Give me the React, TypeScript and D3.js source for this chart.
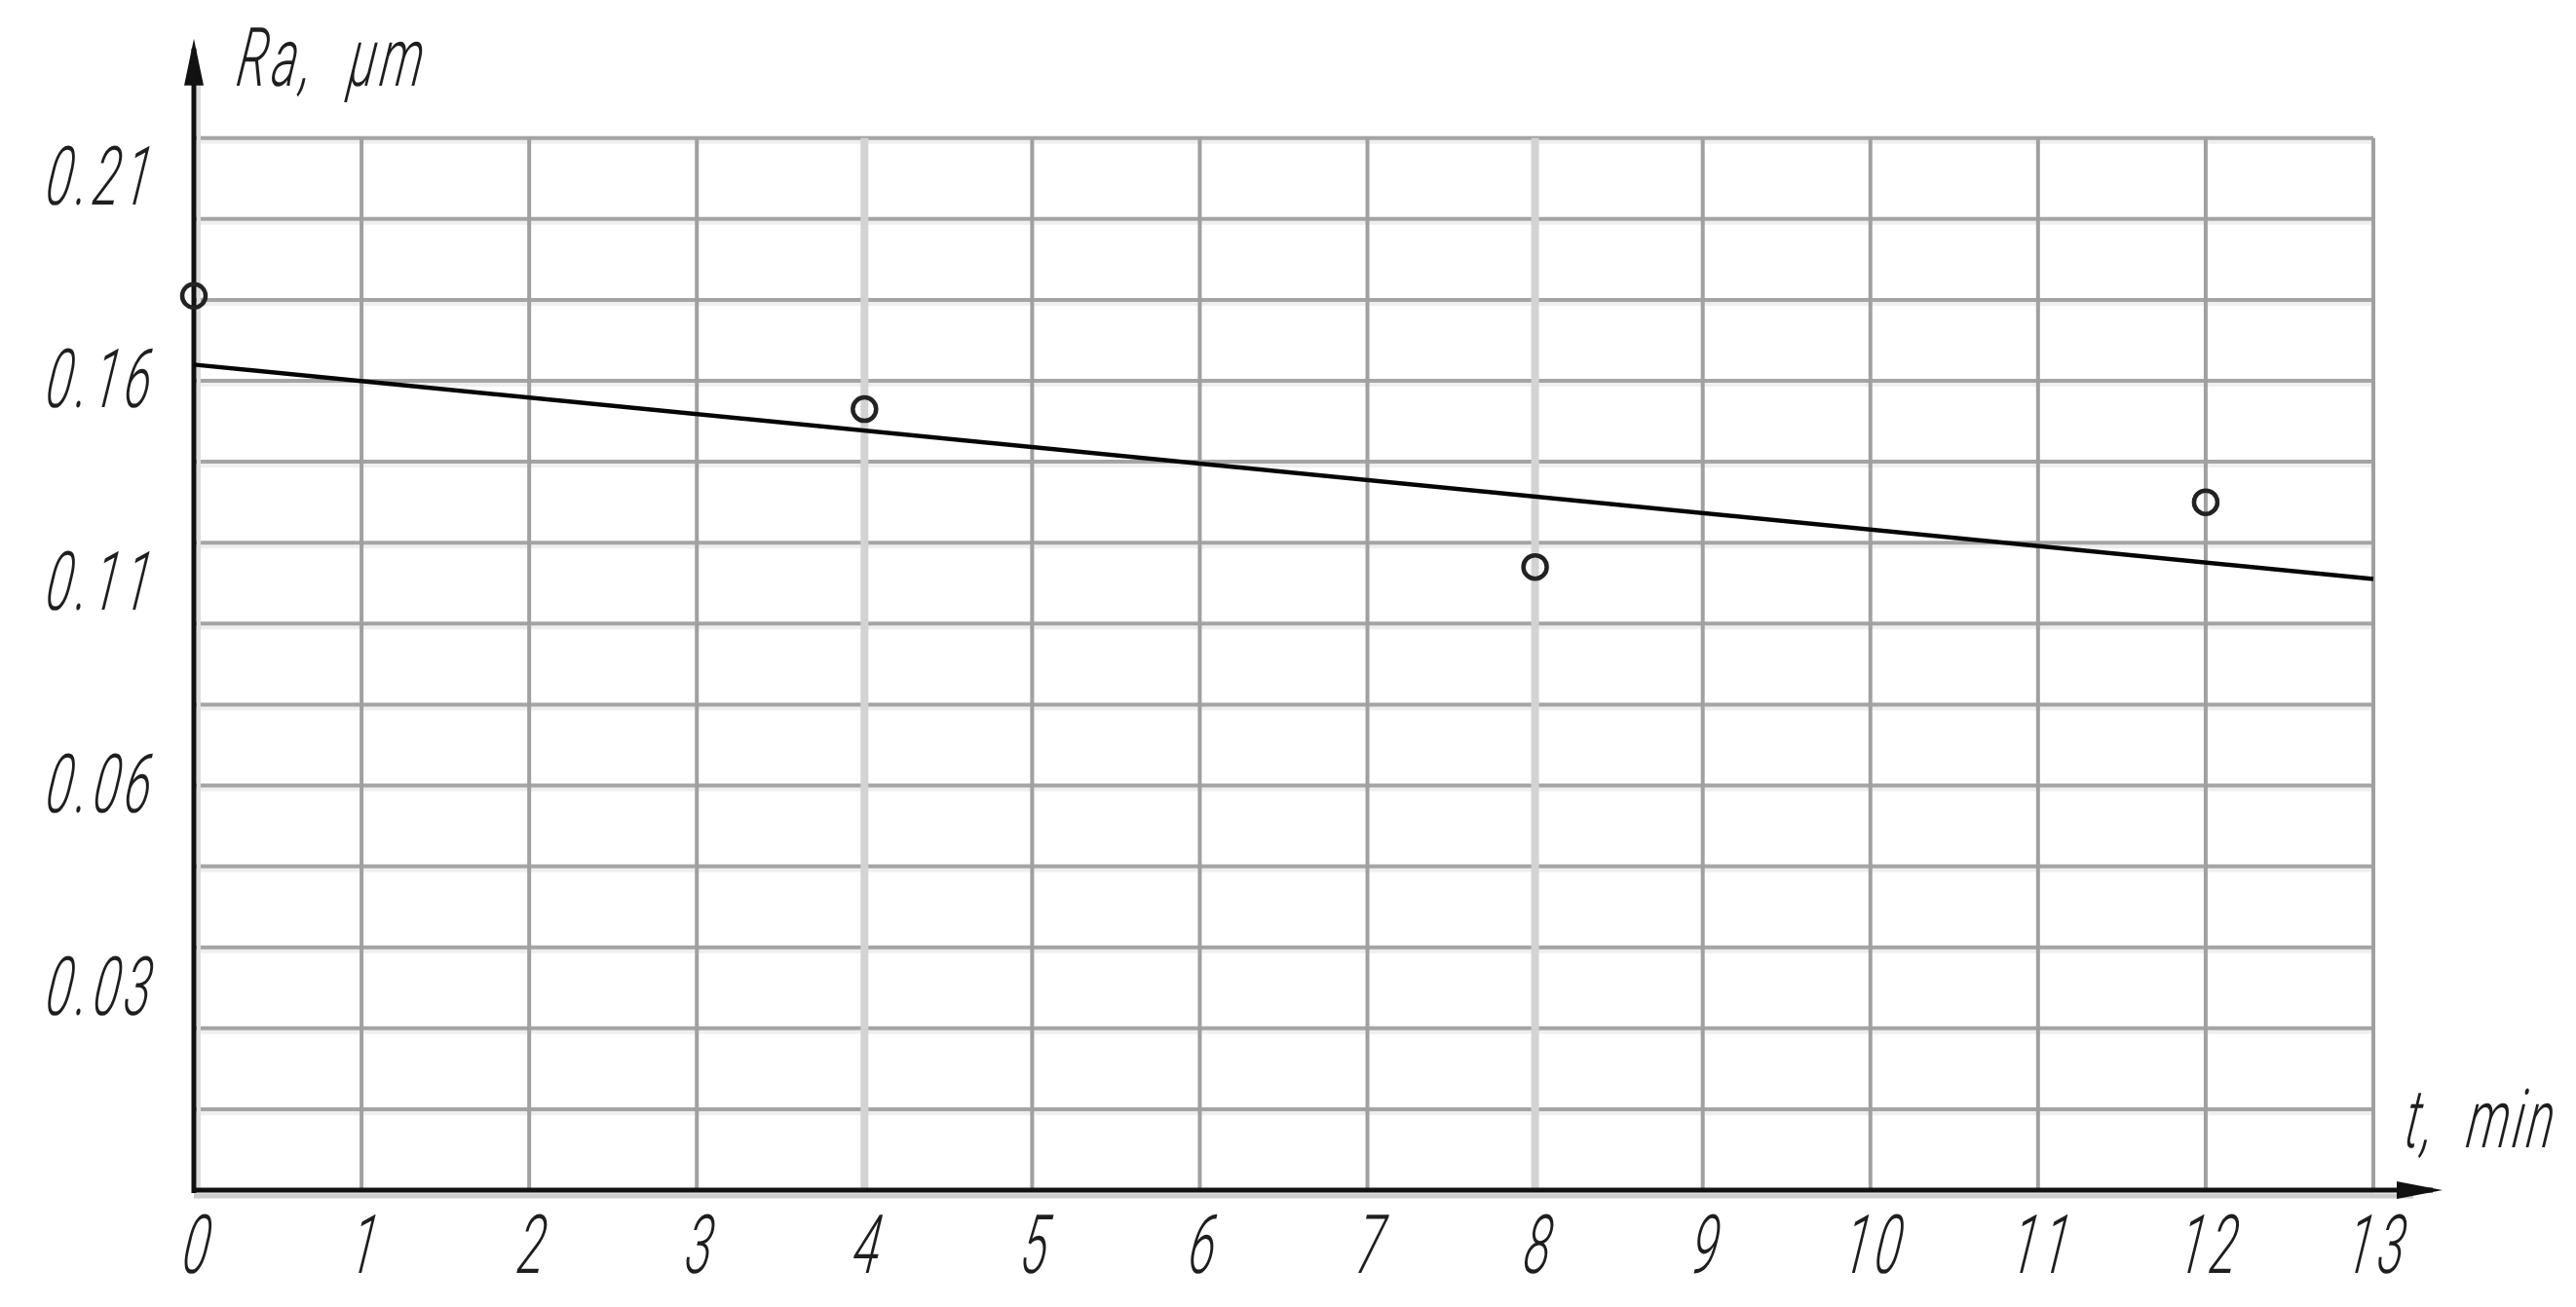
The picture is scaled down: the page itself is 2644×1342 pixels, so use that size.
import React from "react";
import * as d3 from "d3";

// ---- data ----
const times = [0, 4, 8, 12]; // t, min
const roughness = [0.181, 0.153, 0.114, 0.13]; // Ra, µm
const trendT = [0, 13];
const trendRa = [0.164, 0.111];
const xTicks = [0, 1, 2, 3, 4, 5, 6, 7, 8, 9, 10, 11, 12, 13];
const yTickLabels = ["0.21", "0.16", "0.11", "0.06", "0.03"];
const highlightedT = [4, 8];
const yGridValues = d3.range(-0.04, 0.2201, 0.02);

const W = 2644;
const H = 1342;

const FONT = "Roboto, 'DejaVu Sans', sans-serif";

function NarrowText(props: {
  x: number;
  y: number;
  anchor: "start" | "middle" | "end";
  children: React.ReactNode;
  size?: number;
  spacing?: number;
}) {
  const size = props.size ?? 84;
  return (
    <g transform={`translate(${props.x},${props.y}) skewX(-8) scale(0.6,1)`}>
      <text
        x={0}
        y={0}
        textAnchor={props.anchor}
        fontFamily={FONT}
        fontStyle="italic"
        fontWeight={300}
        fontSize={size}
        letterSpacing={props.spacing ?? 8}
        fill="#1e1e1e"
        style={{ whiteSpace: "pre" }}
      >
        {props.children}
      </text>
    </g>
  );
}

export default function App() {
  const x = d3.scaleLinear().domain([0, 13]).range([199, 2436]);
  const y = d3.scaleLinear().domain([-0.04, 0.22]).range([1222, 141.7]);
  const yLab = d3.scalePoint<string>().domain(yTickLabels).range([180, 1012]);

  const [x0, x1] = x.range();
  const [yBottom, yTop] = y.range();

  const line = d3
    .line<number>()
    .x((_, i) => x(trendT[i]))
    .y((d) => y(d));

  const yTip = yTop - 102;
  const xTip = x1 + 71;

  return (
    <svg
      width={W}
      height={H}
      style={{ position: "absolute", left: 0, top: 0, background: "#fff" }}
    >
      <rect x={0} y={0} width={W} height={H} fill="#fff" />
      {/* horizontal grid */}
      {yGridValues.map((v, i) => (
        <g key={"h" + i}>
          <line x1={x0} x2={x1} y1={y(v) + 3} y2={y(v) + 3} stroke="#efefef" strokeWidth={6} />
          <line x1={x0} x2={x1} y1={y(v)} y2={y(v)} stroke="#a4a4a4" strokeWidth={4} />
        </g>
      ))}
      {/* vertical grid */}
      {xTicks.map((t) => (
        <line
          key={"v" + t}
          x1={x(t)}
          x2={x(t)}
          y1={yTop}
          y2={yBottom}
          stroke={highlightedT.includes(t) ? "#d3d3d3" : "#a0a0a0"}
          strokeWidth={highlightedT.includes(t) ? 8 : 4}
        />
      ))}
      {/* axes */}
      <line x1={x0 + 5} x2={x0 + 5} y1={yTip + 40} y2={yBottom} stroke="#dddddd" strokeWidth={4} />
      <line x1={x0} x2={xTip - 30} y1={yBottom + 6} y2={yBottom + 6} stroke="#cccccc" strokeWidth={5} />
      <line x1={x0} x2={x0} y1={yTip + 10} y2={yBottom + 3} stroke="#111" strokeWidth={5} />
      <line x1={x0 - 2} x2={xTip - 10} y1={yBottom} y2={yBottom} stroke="#111" strokeWidth={5} />
      <polygon
        points={`${x0},${yTip} ${x0 - 10},${yTip + 48} ${x0 + 10},${yTip + 48}`}
        fill="#111"
      />
      <polygon
        points={`${xTip},${yBottom} ${xTip - 47},${yBottom - 9} ${xTip - 47},${yBottom + 9}`}
        fill="#111"
      />
      {/* trend line */}
      <path d={line(trendRa) ?? ""} fill="none" stroke="#050505" strokeWidth={4.5} />
      {/* points */}
      {times.map((t, i) => (
        <circle
          key={"p" + t}
          cx={x(t)}
          cy={y(roughness[i])}
          r={12}
          fill="none"
          stroke="#222"
          strokeWidth={4.5}
        />
      ))}
      {/* y tick labels */}
      {yTickLabels.map((l) => (
        <NarrowText key={"yl" + l} x={157} y={(yLab(l) ?? 0) + 30} anchor="end">
          {l}
        </NarrowText>
      ))}
      {/* x tick labels */}
      {xTicks.map((t) => (
        <NarrowText key={"xl" + t} x={x(t) + 2} y={1307} anchor="middle">
          {String(t)}
        </NarrowText>
      ))}
      {/* axis titles */}
      <NarrowText x={241} y={88} anchor="start">
        {"Ra,  μm"}
      </NarrowText>
      <NarrowText x={2466} y={1178} anchor="start" spacing={6}>
        {"t,  min"}
      </NarrowText>
    </svg>
  );
}
